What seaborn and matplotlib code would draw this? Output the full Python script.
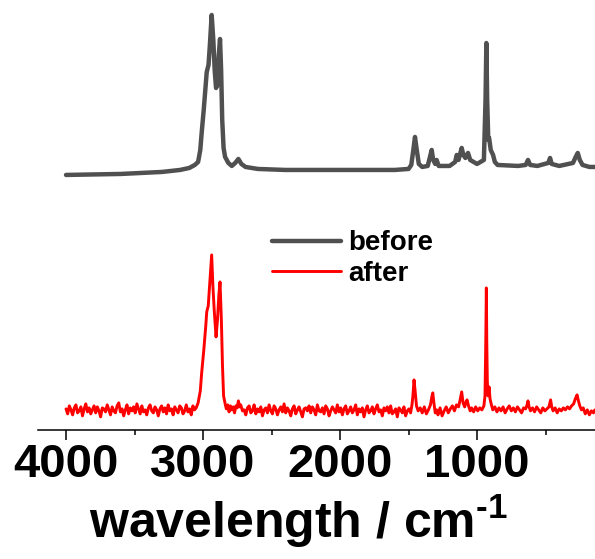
import numpy as np
import pandas as pd
import matplotlib
matplotlib.use("Agg")
import matplotlib.pyplot as plt
from matplotlib.ticker import MultipleLocator
import seaborn as sns

# before: spectrum (wavenumber, intensity)
before_wn = [4000, 3600, 3300, 3168, 3100, 3060, 3036, 3020, 3010, 2995, 2973, 2960,
             2950, 2937, 2925, 2915, 2905, 2895, 2885, 2876, 2868, 2860, 2850, 2839,
             2815, 2790, 2765, 2742, 2720, 2690, 2600, 2400, 2000, 1600, 1500, 1480,
             1465, 1453, 1440, 1425, 1400, 1360, 1340, 1331, 1320, 1305, 1295, 1280,
             1200, 1160, 1148, 1135, 1112, 1100, 1085, 1066, 1050, 1000, 950, 938,
             932, 926, 918, 912, 900, 883, 870, 850, 700, 645, 628, 612, 560, 480,
             467, 455, 400, 300, 280, 265, 250, 230, 180, 139]
before_int = [1, 2, 4, 6, 8, 11, 14, 26, 43, 66, 104, 111,
              131, 161, 136, 106, 88, 91, 121, 137, 106, 56, 28, 19,
              13, 10, 13, 17, 12, 9, 7, 6, 6, 6, 7, 11,
              26, 39, 26, 12, 9, 10, 21, 26, 16, 12, 16, 10,
              10, 14, 21, 16, 28, 21, 18, 23, 16, 12, 16, 76,
              133, 76, 36, 38, 26, 21, 14, 11, 10, 11, 16, 11, 10, 13,
              18, 12, 10, 13, 19, 23, 16, 11, 9, 9]

# after: noisy spectrum, baseline stretches plus peak region
after_noise_a = [2, -3, 5, 1, -4, 3, 6, -2, 0, 4, -5, 2, 7, -1, 3, -3, 1, 5, -2, 4,
                 0, -6, 3, 2, -1, 6, 1, -4, 4, 0, -2, 5, 8, -1, 2, -5, 1, 6, -3, 3,
                 0, 4, -2, 7, 2, -3, 5, -1, 1, -4, 3, 6, 0, -2, 4, 1, -5, 2, 5, -1,
                 3, -3, 6, 0, 2, -4, 4, 1, -2, 5, 3, -3, 0, 6, -1, 2, -4, 5, 1, 3]
after_ch_wn = [3036, 3020, 3010, 2995, 2980, 2973, 2962, 2950, 2937, 2928, 2918, 2905,
               2895, 2885, 2876, 2866, 2858, 2850, 2840, 2830, 2820, 2810, 2800, 2790,
               2780, 2770, 2760, 2750, 2742, 2733, 2725, 2712]
after_ch_int = [8, 20, 38, 60, 85, 99, 105, 130, 156, 125, 100, 74,
                90, 115, 129, 90, 45, 15, 8, 2, 6, -1, 5, 1,
                4, -2, 5, 3, 10, 4, 6, 0]
after_noise_b = [1, -4, 3, 5, -2, 0, 6, -3, 2, -1, 4, -5, 1, 3, -2, 6, 0, -3, 5, 2,
                 -4, 1, 4, -1, 7, -2, 3, 0, -5, 2, 5, -3, 1, 4, -1, -6, 2, 3, 0, 5,
                 -2, 4, 1, -4, 6, 0, -1, 3, -3, 5, 2, -5, 0, 4, 1, -2, 6, -1, 3, -4,
                 2, 5, -3, 0, 4, -2, 1, 6, -4, 2, -1, 3, -6, 1, 5, -2, 0, 4, -3, 2,
                 6, -1, 1, -5, 3, 0, 4, -2, 5, -3, -1, 2, -6, 3, 1, -2, 4, -5, 0, 2]
after_fp_wn = [1485, 1475, 1468, 1460, 1452, 1442, 1430, 1415, 1400, 1385, 1370, 1355,
               1340, 1330, 1323, 1315, 1305, 1295, 1285, 1270, 1255, 1240, 1225, 1210,
               1195, 1180, 1165, 1150, 1135, 1125, 1112, 1102, 1090, 1080, 1073, 1062,
               1050, 1040, 1025, 1010, 995, 980, 965, 950, 942, 937, 932, 929, 925,
               920, 912, 905, 895, 885, 870, 855, 840, 825, 810, 795, 780, 765, 750,
               735, 720, 705, 690, 675, 660, 645, 635, 628, 620, 610, 595, 580, 565,
               550, 535, 520, 505, 490, 475, 463, 455, 445, 430, 415, 400, 385, 370,
               355, 340, 325, 310, 295, 283, 270, 260, 250, 238, 225, 210, 195, 180,
               165, 150, 140]
after_fp_int = [-2, 6, 15, 31, 20, 5, 0, 3, -2, 4, -3, 1,
                6, 14, 18, 8, -2, 1, -4, 3, -5, 0, 4, -2,
                2, 5, 0, 6, 4, 10, 19, 8, 4, 9, 11, 5,
                0, 3, -1, 4, 0, 3, 1, 5, 15, 60, 123, 70, 30,
                15, 24, 12, 6, 1, 4, -1, 3, 0, 4, -2, 2, 5, 0,
                3, -1, 4, 1, -2, 3, 2, 6, 10, 4, 0, 3, -1, 4,
                1, -2, 3, 0, 2, 4, 11, 4, 0, 3, -2, 2, 0, 3,
                1, 4, 2, 5, 7, 12, 16, 10, 5, 1, 3, -3, 1, -4,
                0, -2, 1]

labels = ["before", "after"]
colors = ["#505050", "#ff0000"]
offset_before = 235

after_wn = (list(np.linspace(4000, 3050, len(after_noise_a))) + after_ch_wn
            + list(np.linspace(2700, 1497, len(after_noise_b))) + after_fp_wn)
after_int = after_noise_a + after_ch_int + after_noise_b + after_fp_int

df = pd.concat([
    pd.DataFrame({"wn": before_wn, "y": np.array(before_int) + offset_before, "s": labels[0]}),
    pd.DataFrame({"wn": after_wn, "y": after_int, "s": labels[1]}),
])

sns.set_style("white")
plt.rcParams["font.family"] = ["Liberation Sans", "DejaVu Sans"]
plt.rcParams["font.weight"] = "bold"
plt.rcParams["text.color"] = "black"
plt.rcParams["xtick.color"] = "black"
plt.rcParams["axes.labelcolor"] = "black"
plt.rcParams["mathtext.fontset"] = "custom"
plt.rcParams["mathtext.rm"] = "Liberation Sans:bold"
plt.rcParams["mathtext.bf"] = "Liberation Sans:bold"

fig = plt.figure(figsize=(5.95, 5.59), dpi=100)
ax = fig.add_axes([0.064, 0.231, 0.936, 0.769])

sns.lineplot(data=df[df.s == labels[0]], x="wn", y="y", color=colors[0], lw=3.2,
             estimator=None, sort=False, ax=ax, label=labels[0])
sns.lineplot(data=df[df.s == labels[1]], x="wn", y="y", color=colors[1], lw=2.1,
             estimator=None, sort=False, ax=ax, label=labels[1])

ax.set_xlim(4204, 139)
ax.set_ylim(-19, 411)
for s in ["left", "top", "right"]:
    ax.spines[s].set_visible(False)
ax.spines["bottom"].set_linewidth(1.1)
ax.spines["bottom"].set_color("black")
ax.set_yticks([])
ax.set_ylabel("")
ax.xaxis.set_major_locator(MultipleLocator(1000))
ax.xaxis.set_minor_locator(MultipleLocator(500))
ax.tick_params(axis="x", which="major", direction="out", length=7, width=1.1,
               bottom=True, labelsize=34, pad=2.5, colors="black")
ax.tick_params(axis="x", which="minor", direction="out", length=3.5, width=1.1,
               bottom=True, colors="black")
for t in ax.get_xticklabels():
    t.set_fontweight("bold")
ax.set_xlabel("wavelength / cm$^{\\text{-}\\mathbf{1}}$", fontsize=36,
              fontweight="bold", color="black")
ax.xaxis.label.set_verticalalignment("baseline")
ax.xaxis.set_label_coords(0.467, -0.251)

ax.legend(loc="upper left", bbox_to_anchor=(0.4, 0.49), frameon=False,
          prop={"size": 20, "weight": "bold"}, handlelength=2.5,
          labelspacing=0.15, handletextpad=0.25, borderaxespad=0)

fig.savefig("out.png", dpi=100)
